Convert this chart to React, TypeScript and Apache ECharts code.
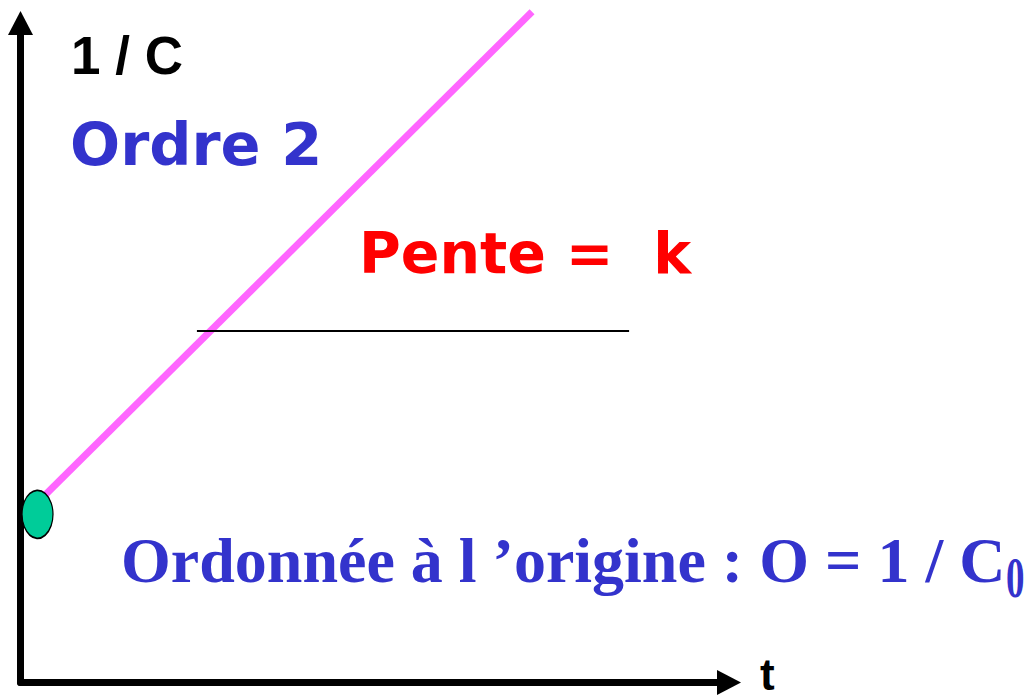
import React, { useEffect, useRef } from "react";
import * as echarts from "echarts";

// Values (arbitrary units, axes 0..10)
const penteT = [0.28, 7.22];
const penteInvC = [2.77, 10.17];
const interceptT = [0.24];
const interceptInvC = [2.55];
const guideT = [2.49, 8.59];
const guideInvC = [5.33, 5.33];

const yName = "1 / C";
const xName = "t";
const ordreLabel = "Ordre 2";
const penteLabel = "Pente =  k";
const origineLabel = "Ordonnée à l ’origine : O = 1 / C";
const origineSub = "0";

const BLUE = "#3333CC";

export default function App() {
  const ref = useRef<HTMLDivElement>(null);
  useEffect(() => {
    if (!ref.current) return;
    const chart = echarts.init(ref.current, undefined, { renderer: "svg" });
    const axisCommon = {
      type: "value" as const,
      min: 0,
      max: 10,
      axisLine: {
        show: true,
        onZero: false,
        lineStyle: { color: "#000", width: 7 },
        symbol: ["none", "triangle"],
        symbolSize: [25, 24],
      },
      axisTick: { show: false },
      axisLabel: { show: false },
      splitLine: { show: false },
    };
    chart.setOption({
      animation: false,
      backgroundColor: "#fff",
      grid: { left: 20.5, right: 298, top: 23, bottom: 17.5, containLabel: false },
      xAxis: { ...axisCommon },
      yAxis: { ...axisCommon },
      series: [
        {
          name: "pente",
          type: "line",
          data: penteT.map((t, i) => [t, penteInvC[i]]),
          showSymbol: false,
          clip: false,
          lineStyle: { color: "#FF66FF", width: 7 },
          z: 2,
        },
        {
          name: "guide",
          type: "line",
          data: guideT.map((t, i) => [t, guideInvC[i]]),
          showSymbol: false,
          clip: false,
          lineStyle: { color: "#000", width: 2 },
          z: 2,
        },
        {
          name: "intercept",
          type: "scatter",
          data: interceptT.map((t, i) => [t, interceptInvC[i]]),
          symbol: "circle",
          symbolSize: [31, 48],
          clip: false,
          itemStyle: { color: "#00CC99", borderColor: "#000", borderWidth: 1.5, opacity: 1 },
          z: 5,
        },
      ],
      graphic: [
        {
          type: "text",
          x: 71,
          y: 55.5,
          z: 10,
          style: {
            text: yName,
            font: "bold 53px 'Liberation Sans', Arial, sans-serif",
            fill: "#000",
            align: "left",
            verticalAlign: "middle",
          },
        },
        {
          type: "text",
          x: 760,
          y: 674,
          z: 10,
          style: {
            text: xName,
            font: "bold 44px 'Liberation Sans', Arial, sans-serif",
            lineHeight: 30,
            fill: "#000",
            align: "left",
            verticalAlign: "middle",
          },
        },
        {
          type: "text",
          x: 70,
          y: 144,
          z: 10,
          style: {
            text: ordreLabel,
            font: "bold 59px 'DejaVu Sans', sans-serif",
            fill: BLUE,
            align: "left",
            verticalAlign: "middle",
          },
        },
        {
          type: "text",
          x: 359,
          y: 253,
          z: 10,
          style: {
            text: penteLabel,
            font: "bold 57px 'DejaVu Sans', sans-serif",
            fill: "#FF0000",
            align: "left",
            verticalAlign: "middle",
          },
        },
        {
          type: "text",
          x: 121,
          y: 560.5,
          z: 10,
          style: {
            text: origineLabel,
            font: "bold 64px 'Liberation Serif', 'Times New Roman', serif",
            fill: BLUE,
            align: "left",
            verticalAlign: "middle",
          },
        },
        {
          type: "text",
          x: 1006,
          y: 578,
          scaleX: 0.66,
          z: 10,
          style: {
            text: origineSub,
            font: "bold 56px 'Liberation Serif', 'Times New Roman', serif",
            lineHeight: 40,
            fill: BLUE,
            align: "left",
            verticalAlign: "middle",
          },
        },
      ],
    });
    return () => chart.dispose();
  }, []);
  return (
    <div
      ref={ref}
      style={{ position: "absolute", left: 0, top: 0, width: 1027, height: 700 }}
    />
  );
}
